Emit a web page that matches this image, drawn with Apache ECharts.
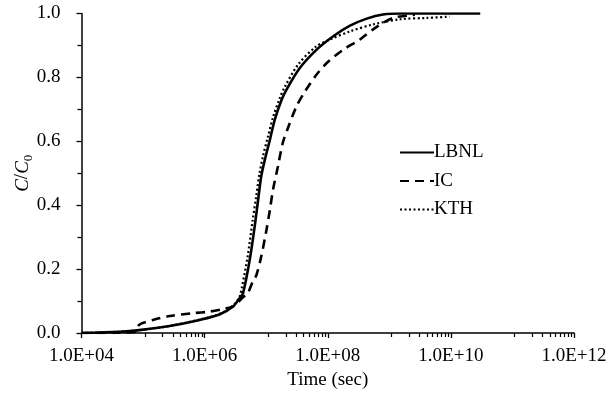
<!DOCTYPE html>
<html>
<head>
<meta charset="utf-8">
<script src="https://cdn.jsdelivr.net/npm/echarts@6/dist/echarts.min.js"></script>
<style>
html,body{margin:0;padding:0;background:#fff;}
#chart{width:615px;height:396px;}
</style>
</head>
<body>
<div id="chart"></div>
<script>
// Time (sec) / C/C0 pairs
var lbnlTime = [1.0e4, 4.2e4, 8.7e4, 2.7e5, 8.3e5, 1.74e6, 2.9e6, 3.7e6, 4.2e6, 5.4e6, 6.5e6, 7.4e6, 8.3e6, 9.5e6, 1.15e7, 1.38e7, 1.78e7, 2.14e7, 3.47e7, 6.6e7, 1.23e8, 2.3e8, 4.3e8, 7.9e8, 1.5e9, 3.0e10];
var lbnlConc = [0.0, 0.004, 0.009, 0.022, 0.041, 0.058, 0.083, 0.109, 0.124, 0.229, 0.333, 0.417, 0.49, 0.542, 0.605, 0.668, 0.73, 0.762, 0.828, 0.887, 0.929, 0.962, 0.984, 0.997, 1.0, 1.0];

var icTime = [1.0e4, 7.2e4, 8.3e4, 9.5e4, 1.45e5, 2.7e5, 6.5e5, 1.2e6, 2.0e6, 2.9e6, 4.2e6, 5.0e6, 6.2e6, 6.9e6, 8.3e6, 1.0e7, 1.15e7, 1.29e7, 1.55e7, 1.86e7, 2.24e7, 3.1e7, 4.3e7, 6.6e7, 1.0e8, 1.8e8, 3.3e8, 5.9e8, 1.15e9, 2.1e9, 2.6e9];
var icConc = [0.0, 0.003, 0.022, 0.03, 0.041, 0.053, 0.062, 0.067, 0.075, 0.083, 0.112, 0.124, 0.166, 0.18, 0.239, 0.318, 0.386, 0.448, 0.521, 0.595, 0.64, 0.709, 0.757, 0.809, 0.848, 0.887, 0.918, 0.955, 0.986, 0.994, 0.996];

var kthTime = [1.0e4, 4.2e4, 8.7e4, 2.7e5, 8.3e5, 1.74e6, 2.9e6, 3.7e6, 4.0e6, 5.0e6, 6.0e6, 6.9e6, 7.8e6, 8.9e6, 1.07e7, 1.29e7, 1.66e7, 2.0e7, 3.3e7, 6.3e7, 1.07e8, 2.3e8, 5.5e8, 1.5e9, 4.0e9, 9.5e9];
var kthConc = [0.0, 0.004, 0.009, 0.022, 0.042, 0.06, 0.086, 0.114, 0.14, 0.24, 0.35, 0.43, 0.5, 0.555, 0.615, 0.675, 0.735, 0.77, 0.84, 0.895, 0.918, 0.944, 0.966, 0.982, 0.986, 0.99];

var seriesNames = ['LBNL', 'IC', 'KTH'];
var xTickLabels = ['1.0E+04', '1.0E+06', '1.0E+08', '1.0E+10', '1.0E+12'];
var yTickLabels = ['0.0', '0.2', '0.4', '0.6', '0.8', '1.0'];
var xMajorTicks = [1e4, 1e6, 1e8, 1e10, 1e12];

// Spreadsheet-style minor ticks: 9 evenly spaced (in value) inside each major interval
var xMinorTicks = [];
for (var m = 0; m < xMajorTicks.length - 1; m++) {
  var a = xMajorTicks[m], b = xMajorTicks[m + 1];
  for (var k = 1; k <= 9; k++) xMinorTicks.push(a + k * (b - a) / 10);
}

function pairs(xs, ys) { return xs.map(function (x, i) { return [x, ys[i]]; }); }

var FONT = 'Liberation Serif';
var chart = echarts.init(document.getElementById('chart'), null, {renderer: 'canvas'});
chart.setOption({
  animation: false,
  backgroundColor: '#fff',
  textStyle: {fontFamily: FONT, color: '#000'},
  grid: {left: 81.5, right: 41, top: 13.5, bottom: 63, containLabel: false},
  legend: {
    orient: 'vertical', left: 394, top: 138,
    itemWidth: 34, itemHeight: 14, itemGap: 9.5,
    data: seriesNames,
    itemStyle: {opacity: 0, borderWidth: 0},
    textStyle: {fontFamily: FONT, fontSize: 19, color: '#000', padding: [0, 0, 0, -5]}
  },
  xAxis: [{
    type: 'log', logBase: 100, min: 1e4, max: 1e12,
    name: 'Time (sec)', nameLocation: 'middle', nameGap: 38, nameMoveOverlap: false,
    nameTextStyle: {fontFamily: FONT, fontSize: 19, color: '#000'},
    axisLine: {show: true, onZero: false, lineStyle: {color: '#000', width: 1.5}},
    axisTick: {show: true, inside: false, length: 5, lineStyle: {color: '#000', width: 1.3}},
    minorTick: {show: false},
    splitLine: {show: false},
    axisLabel: {
      margin: 14, fontFamily: FONT, fontSize: 19, color: '#000',
      formatter: function (v) {
        var e = Math.round(Math.log10(v));
        return xTickLabels[(e - 4) / 2] || '';
      }
    }
  }, {
    type: 'log', logBase: 10, min: 1e4, max: 1e12, position: 'bottom',
    axisLine: {show: false},
    axisTick: {show: true, inside: false, length: 4, customValues: xMinorTicks, lineStyle: {color: '#000', width: 1.2}},
    axisLabel: {show: false},
    splitLine: {show: false}
  }],
  yAxis: {
    type: 'value', min: 0, max: 1, interval: 0.2,
    name: '{i|C}{n|/}{i|C}{s|0}', nameLocation: 'middle', nameGap: 46, nameRotate: 90, nameMoveOverlap: false,
    nameTextStyle: {
      fontFamily: FONT, fontSize: 19, color: '#000',
      rich: {
        i: {fontFamily: FONT, fontSize: 19, fontStyle: 'italic', color: '#000', lineHeight: 26, verticalAlign: 'middle'},
        n: {fontFamily: FONT, fontSize: 19, color: '#000', lineHeight: 26, verticalAlign: 'middle'},
        s: {fontFamily: FONT, fontSize: 13, color: '#000', lineHeight: 13, verticalAlign: 'bottom'}
      }
    },
    axisLine: {show: true, lineStyle: {color: '#000', width: 1.5}},
    axisTick: {show: true, inside: false, length: 5, lineStyle: {color: '#000', width: 1.3}},
    minorTick: {show: true, splitNumber: 2, length: 4, lineStyle: {color: '#000', width: 1.3}},
    splitLine: {show: false},
    minorSplitLine: {show: false},
    axisLabel: {
      margin: 21, fontFamily: FONT, fontSize: 19, color: '#000',
      formatter: function (v) { return yTickLabels[Math.round(v * 5)]; }
    }
  },
  series: [{
    name: seriesNames[0], type: 'line', xAxisIndex: 0, showSymbol: false, symbol: 'none', smooth: 0.3,
    data: pairs(lbnlTime, lbnlConc),
    lineStyle: {color: '#000', width: 2.6, type: 'solid'},
    itemStyle: {color: '#000'}, z: 3
  }, {
    name: seriesNames[1], type: 'line', xAxisIndex: 0, showSymbol: false, symbol: 'none', smooth: 0.3,
    data: pairs(icTime, icConc),
    lineStyle: {color: '#000', width: 2.6, type: [9, 6]},
    itemStyle: {color: '#000'}, z: 2
  }, {
    name: seriesNames[2], type: 'line', xAxisIndex: 0, showSymbol: false, symbol: 'none', smooth: 0.3,
    data: pairs(kthTime, kthConc),
    lineStyle: {color: '#000', width: 2.2, type: [2, 2.5]},
    itemStyle: {color: '#000'}, z: 4
  }]
});
</script>
</body>
</html>
